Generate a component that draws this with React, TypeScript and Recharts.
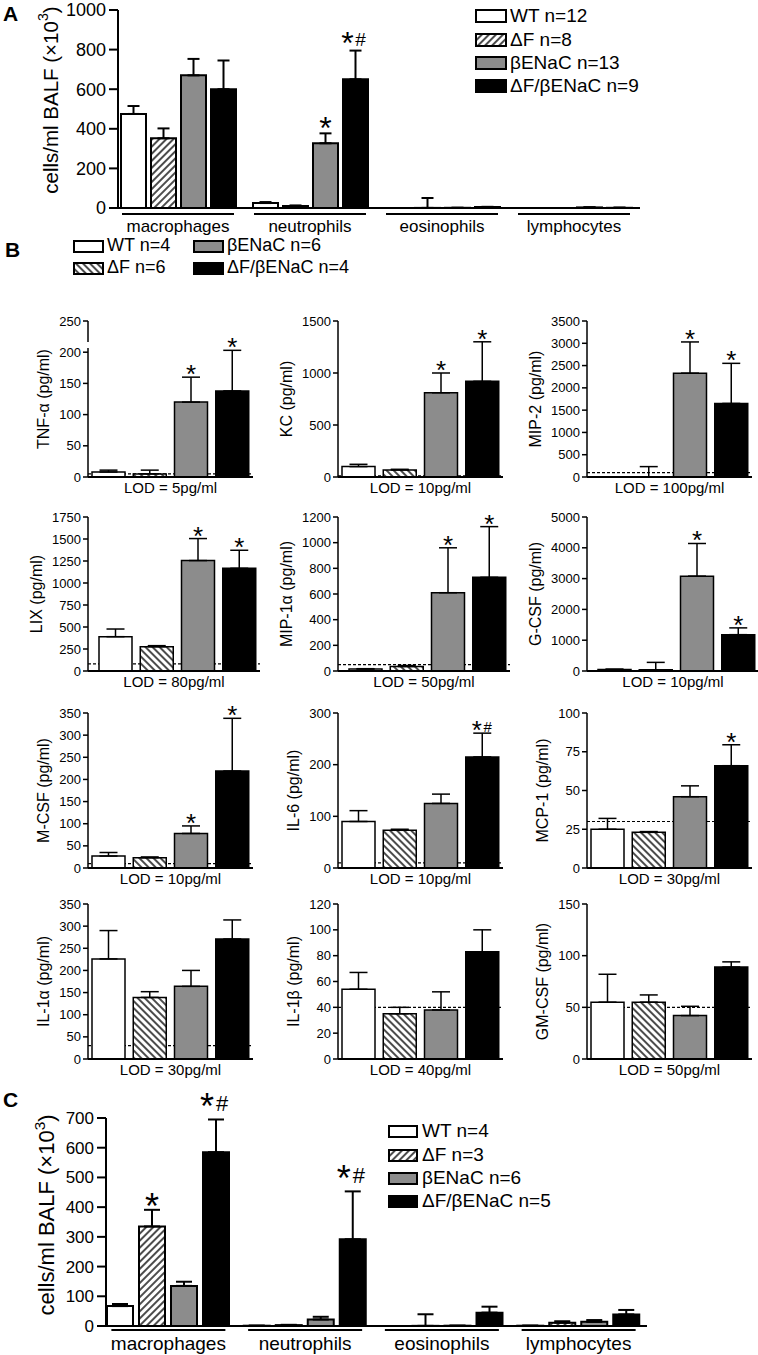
import React from 'react';
import { BarChart, Bar, XAxis, YAxis, Cell, ErrorBar, LabelList, ReferenceLine } from 'recharts';

const FONT = 'Arial, "Liberation Sans", Helvetica, sans-serif';
const GRAY = '#8c8c8c';

// ---------------- Panel A ----------------
const cellTypes = ['macrophages', 'neutrophils', 'eosinophils', 'lymphocytes'];
const legendLabelsA = ['WT n=12', 'ΔF n=8', 'βENaC n=13', 'ΔF/βENaC n=9'];
const ticksA = [0, 200, 400, 600, 800, 1000];
const wtA = [475, 25, 0, 0];
const wtErrA = [40, 5, 0, 0];
const dfA = [352, 10, 0.5, 0];
const dfErrA = [50, 3, 50, 0];
const benA = [670, 327, 1, 3];
const benErrA = [83, 50, 0, 1];
const dbA = [600, 650, 5, 1];
const dbErrA = [145, 145, 1, 1];
const benSigA = ['', '*', '', ''];
const dbSigA = ['', '*#', '', ''];

// ---------------- Panel C ----------------
const legendLabelsC = ['WT n=4', 'ΔF n=3', 'βENaC n=6', 'ΔF/βENaC n=5'];
const ticksC = [0, 100, 200, 300, 400, 500, 600, 700];
const wtC = [67, 1, 0, 1];
const wtErrC = [7, 0, 0, 0];
const dfC = [335, 3, 0.5, 11];
const dfErrC = [56, 1, 39, 5];
const benC = [135, 22, 1, 14];
const benErrC = [14, 9, 0, 6];
const dbC = [585, 292, 45, 39];
const dbErrC = [110, 161, 20, 15];
const dfSigC = ['*', '', '', ''];
const dbSigC = ['*#', '*#', '', ''];
const noSig = ['', '', '', ''];

// ---------------- Panel B ----------------
const groupsB = ['WT', 'ΔF', 'βENaC', 'ΔF/βENaC'];
const legendLabelsB = ['WT n=4', 'ΔF n=6', 'βENaC n=6', 'ΔF/βENaC n=4'];

const tnfValues = [8, 5, 120, 138];
const tnfErrors = [3, 6, 40, 65];
const tnfSig = ['', '', '*', '*'];
const tnfTicks = [0, 50, 100, 150, 200, 250];

const kcValues = [100, 68, 810, 920];
const kcErrors = [22, 6, 190, 380];
const kcSig = ['', '', '*', '*'];
const kcTicks = [0, 500, 1000, 1500];

const mip2Values = [0, 3, 2330, 1650];
const mip2Errors = [0, 230, 700, 900];
const mip2Sig = ['', '', '*', '*'];
const mip2Ticks = [0, 500, 1000, 1500, 2000, 2500, 3000, 3500];

const lixValues = [390, 276, 1255, 1167];
const lixErrors = [87, 12, 250, 205];
const lixSig = ['', '', '*', '*'];
const lixTicks = [0, 250, 500, 750, 1000, 1250, 1500, 1750];

const mip1aValues = [15, 35, 610, 730];
const mip1aErrors = [3, 8, 350, 395];
const mip1aSig = ['', '', '*', '*'];
const mip1aTicks = [0, 200, 400, 600, 800, 1000, 1200];

const gcsfValues = [50, 40, 3080, 1180];
const gcsfErrors = [10, 240, 1060, 220];
const gcsfSig = ['', '', '*', '*'];
const gcsfTicks = [0, 1000, 2000, 3000, 4000, 5000];

const mcsfValues = [27, 23, 78, 219];
const mcsfErrors = [8, 2, 17, 119];
const mcsfSig = ['', '', '*', '*'];
const mcsfTicks = [0, 50, 100, 150, 200, 250, 300, 350];

const il6Values = [90, 73, 125, 215];
const il6Errors = [21, 2, 18, 46];
const il6Sig = ['', '', '', '*#'];
const il6Ticks = [0, 100, 200, 300];

const mcp1Values = [25, 23, 46, 66];
const mcp1Errors = [7, 0.5, 7, 13.5];
const mcp1Sig = ['', '', '', '*'];
const mcp1Ticks = [0, 25, 50, 75, 100];

const il1aValues = [226, 139, 164, 271];
const il1aErrors = [64, 13, 36, 43];
const il1aTicks = [0, 50, 100, 150, 200, 250, 300, 350];

const il1bValues = [54, 35, 38, 83];
const il1bErrors = [13, 5, 14, 17];
const il1bTicks = [0, 20, 40, 60, 80, 100, 120];

const gmcsfValues = [55, 55, 42, 89];
const gmcsfErrors = [27, 7, 9, 5];
const gmcsfTicks = [0, 50, 100, 150];

const cytokines = [
  { label: 'TNF-α (pg/ml)', lod: 5, values: tnfValues, errors: tnfErrors, sig: tnfSig, ticks: tnfTicks },
  { label: 'KC (pg/ml)', lod: 10, values: kcValues, errors: kcErrors, sig: kcSig, ticks: kcTicks },
  { label: 'MIP-2 (pg/ml)', lod: 100, values: mip2Values, errors: mip2Errors, sig: mip2Sig, ticks: mip2Ticks },
  { label: 'LIX (pg/ml)', lod: 80, values: lixValues, errors: lixErrors, sig: lixSig, ticks: lixTicks },
  { label: 'MIP-1α (pg/ml)', lod: 50, values: mip1aValues, errors: mip1aErrors, sig: mip1aSig, ticks: mip1aTicks },
  { label: 'G-CSF (pg/ml)', lod: 10, values: gcsfValues, errors: gcsfErrors, sig: gcsfSig, ticks: gcsfTicks },
  { label: 'M-CSF (pg/ml)', lod: 10, values: mcsfValues, errors: mcsfErrors, sig: mcsfSig, ticks: mcsfTicks },
  { label: 'IL-6 (pg/ml)', lod: 10, values: il6Values, errors: il6Errors, sig: il6Sig, ticks: il6Ticks },
  { label: 'MCP-1 (pg/ml)', lod: 30, values: mcp1Values, errors: mcp1Errors, sig: mcp1Sig, ticks: mcp1Ticks },
  { label: 'IL-1α (pg/ml)', lod: 30, values: il1aValues, errors: il1aErrors, sig: noSig, ticks: il1aTicks },
  { label: 'IL-1β (pg/ml)', lod: 40, values: il1bValues, errors: il1bErrors, sig: noSig, ticks: il1bTicks },
  { label: 'GM-CSF (pg/ml)', lod: 50, values: gmcsfValues, errors: gmcsfErrors, sig: noSig, ticks: gmcsfTicks },
];

// ---------------- layout ----------------
const colAxisX = [88, 338, 587];
const rowTop = [321, 517, 713, 904];
const rowBottom = [477, 671, 868, 1059];
const rowPadLeft = [0, 7, 0, 0];
const SMALL_YW = 88;
const SMALL_PW = 165;

// ---------------- helpers ----------------
const hatchDef = (id: string, dir: 'fwd' | 'back') => (
  <pattern id={id} key={id} patternUnits="userSpaceOnUse" width={5} height={5} patternTransform={`rotate(${dir === 'fwd' ? 45 : -45})`}>
    <rect x={0} y={0} width={5} height={5} fill="#fff" />
    <line x1={1} y1={-1} x2={1} y2={6} stroke="#000" strokeWidth={1.4} />
  </pattern>
);

type StarCfg = { size: number; singleDy: number; pairStarDy: number; hashSize: number; hashDy: number; starDx: number; hashDx: number };

// label value is "sig|value|error" so the error-bar top can be found from the bar's own pixel scale
const makeSig = (st: StarCfg) => (props: any) => {
  const raw = props.value;
  if (!raw) return null;
  const [sig, vStr, eStr] = String(raw).split('|');
  if (!sig) return null;
  const v = Number(vStr), e = Number(eStr);
  const vb = props.viewBox && props.viewBox.width !== undefined ? props.viewBox : props;
  const x = Number(vb.x), y = Number(vb.y), w = Number(vb.width), h = Number(vb.height);
  if (!(v > 0) || !isFinite(h)) return null;
  const capY = y - e * (Math.abs(h) / v);
  const cx = x + w / 2;
  if (sig === '*') {
    return <text x={cx} y={capY + st.singleDy} textAnchor="middle" fontSize={st.size} fill="#000">*</text>;
  }
  return (
    <g>
      <text x={cx + st.starDx} y={capY + st.pairStarDy} textAnchor="middle" fontSize={st.size} fill="#000">*</text>
      <text x={cx + st.hashDx} y={capY + st.hashDy} textAnchor="middle" fontSize={st.hashSize} fill="#000">#</text>
    </g>
  );
};

const rotLabel = (content: React.ReactNode, cx: number, cy: number, fs: number) => () => (
  <text transform={`translate(${cx},${cy}) rotate(-90)`} textAnchor="middle" dominantBaseline="central" fontSize={fs} fill="#000">{content}</text>
);

// ---------------- grouped chart (A, C) ----------------
type Series = { key: string; vals: number[]; errs: number[]; sig: string[]; fill: string };

const GroupedChart = (p: {
  top: number; height: number; plotTop: number; plotBottom: number; axisX: number; plotRight: number; padLeft: number;
  series: Series[]; ticks: number[]; barSize: number; barGap: number; errW: number; tickFs: number; catFs: number;
  ulDy: number; txtDy: number; ulHalf: number; star: StarCfg; hatchId: string; yLabel: React.ReactNode; yLabCx: number; yLabCy: number; yLabFs: number;
}) => {
  const rows = cellTypes.map((c, i) => {
    const r: any = { cat: c };
    p.series.forEach((s) => {
      r[s.key] = s.vals[i];
      r[s.key + 'E'] = [0, s.errs[i]];
      r[s.key + 'Err'] = s.errs[i];
      r[s.key + 'S'] = s.sig[i];
    });
    return r;
  });
  const mTop = p.plotTop - p.top;
  const xH = p.top + p.height - p.plotBottom;
  const width = p.plotRight + 16;
  const catTick = (tp: any) => {
    const { x, y, payload } = tp;
    return (
      <g>
        <line x1={x - p.ulHalf} x2={x + p.ulHalf} y1={y + p.ulDy} y2={y + p.ulDy} stroke="#000" strokeWidth={2} />
        <text x={x} y={y + p.txtDy} textAnchor="middle" fontSize={p.catFs} fill="#000">{payload.value}</text>
      </g>
    );
  };
  return (
    <div style={{ position: 'absolute', left: 0, top: p.top, width, height: p.height }}>
      <BarChart width={width} height={p.height} data={rows} margin={{ top: mTop, right: width - p.plotRight, bottom: 0, left: 0 }} barGap={p.barGap}>
        <defs>{hatchDef(p.hatchId, 'fwd')}</defs>
        <XAxis dataKey="cat" height={xH} tickLine={false} tickSize={0} tickMargin={0} interval={0}
          axisLine={{ stroke: '#000', strokeWidth: 2 }} tick={catTick} padding={{ left: p.padLeft, right: 0 }} />
        <YAxis width={p.axisX} domain={[0, p.ticks[p.ticks.length - 1]]} ticks={p.ticks} interval={0} allowDataOverflow
          tickSize={9} tickMargin={3} axisLine={{ stroke: '#000', strokeWidth: 2 }} tickLine={{ stroke: '#000', strokeWidth: 2 }}
          tick={{ fontSize: p.tickFs, fill: '#000' }}
          label={{ value: 'y', content: rotLabel(p.yLabel, p.yLabCx, p.yLabCy, p.yLabFs) }} />
        {p.series.map((s) => (
          <Bar key={s.key} dataKey={s.key} fill={s.fill} stroke="#000" strokeWidth={2} barSize={p.barSize} isAnimationActive={false}>
            <ErrorBar dataKey={s.key + 'E'} width={p.errW} stroke="#000" strokeWidth={2} direction="y" />
            <LabelList dataKey={(r: any) => (r[s.key + 'S'] ? `${r[s.key + 'S']}|${r[s.key]}|${r[s.key + 'Err']}` : '')} content={makeSig(p.star)} />
          </Bar>
        ))}
      </BarChart>
    </div>
  );
};

// ---------------- small cytokine chart ----------------
const fillsB = ['#fff', 'url(#hatchB)', GRAY, '#000'];
const starB: StarCfg = { size: 26, singleDy: 6, pairStarDy: 6, hashSize: 15, hashDy: -1, starDx: -5.5, hashDx: 5.5 };

const SmallChart = ({ c, idx }: { c: typeof cytokines[number]; idx: number }) => {
  const col = idx % 3;
  const row = Math.floor(idx / 3);
  const axisX = colAxisX[col];
  const pTop = rowTop[row];
  const pBot = rowBottom[row];
  const padL = rowPadLeft[row];
  const plotW = SMALL_PW + padL;
  const plotH = pBot - pTop;
  const mTop = 14;
  const xH = 24;
  const height = mTop + plotH + xH;
  const width = SMALL_YW + plotW + 5;
  const rows = groupsB.map((g, i) => ({ g, v: c.values[i], e: [0, c.errors[i]], err: c.errors[i], s: c.sig[i] }));
  const maxT = c.ticks[c.ticks.length - 1];
  const dist = String(maxT).length >= 4 ? 52 : 45;
  const patId = `hatchB${idx}`;
  const lodLabel = () => (
    <text x={SMALL_YW + plotW / 2} y={mTop + plotH + 16} textAnchor="middle" fontSize={15} fill="#000">{`LOD = ${c.lod}pg/ml`}</text>
  );
  return (
    <div style={{ position: 'absolute', left: axisX - SMALL_YW, top: pTop - mTop, width, height }}>
      <BarChart width={width} height={height} data={rows} margin={{ top: mTop, right: 5, bottom: 0, left: 0 }}>
        <defs>{hatchDef(patId, 'back')}</defs>
        <XAxis dataKey="g" height={xH} tick={false} tickLine={false} axisLine={{ stroke: '#000', strokeWidth: 2 }}
          padding={{ left: padL, right: 0 }}
          label={{ value: 'lod', content: lodLabel }} />
        <YAxis width={SMALL_YW} domain={[0, maxT]} ticks={c.ticks} interval={0} allowDataOverflow tickSize={5} tickMargin={2}
          axisLine={{ stroke: '#000', strokeWidth: 1.5 }} tickLine={{ stroke: '#000', strokeWidth: 1.5 }}
          tick={{ fontSize: 13, fill: '#000' }}
          label={{ value: c.label, content: rotLabel(c.label, SMALL_YW - dist, mTop + plotH / 2, 16) }} />
        <ReferenceLine y={c.lod} stroke="#000" strokeDasharray="3 2" strokeWidth={1.2} zIndex={-1} />
        <Bar dataKey="v" barSize={33} stroke="#000" strokeWidth={1.5} isAnimationActive={false}>
          {rows.map((r, i) => (
            <Cell key={i} fill={i === 1 ? `url(#${patId})` : fillsB[i]} />
          ))}
          <ErrorBar dataKey="e" width={9} stroke="#000" strokeWidth={1.5} direction="y" />
          <LabelList dataKey={(r: any) => (r.s ? `${r.s}|${r.v}|${r.err}` : '')} content={makeSig(starB)} />
        </Bar>
      </BarChart>
    </div>
  );
};

// ---------------- legend ----------------
const Swatch = ({ kind, w, h, id }: { kind: string; w: number; h: number; id: string }) => {
  const fill = kind === 'white' ? '#fff' : kind === 'gray' ? GRAY : kind === 'black' ? '#000' : `url(#${id})`;
  return (
    <svg width={w} height={h} style={{ display: 'block' }}>
      <defs>{kind === 'fwd' || kind === 'back' ? hatchDef(id, kind as any) : null}</defs>
      <rect x={1} y={1} width={w - 2} height={h - 2} fill={fill} stroke="#000" strokeWidth={2} />
    </svg>
  );
};

const LegendItem = ({ left, cy, w, h, kind, text, fs, gap, id }: any) => (
  <>
    <div style={{ position: 'absolute', left, top: cy - h / 2 }}>
      <Swatch kind={kind} w={w} h={h} id={id} />
    </div>
    <div style={{ position: 'absolute', left: left + w + gap, top: cy - 0.6 * fs, fontSize: fs, lineHeight: `${1.2 * fs}px`, whiteSpace: 'nowrap', color: '#000' }}>{text}</div>
  </>
);

const yLabBALF = (
  <>
    cells/ml BALF (×10<tspan dy={-7} fontSize="70%">3</tspan><tspan dy={7}>)</tspan>
  </>
);

const PanelLetter = ({ ch, left, top }: { ch: string; left: number; top: number }) => (
  <div style={{ position: 'absolute', left, top, fontSize: 21, fontWeight: 'bold', lineHeight: '24px' }}>{ch}</div>
);

export default function App() {
  const kindsA = ['white', 'fwd', 'gray', 'black'];
  const seriesA: Series[] = [
    { key: 'wt', vals: wtA, errs: wtErrA, sig: noSig, fill: '#fff' },
    { key: 'df', vals: dfA, errs: dfErrA, sig: noSig, fill: 'url(#hatchA)' },
    { key: 'ben', vals: benA, errs: benErrA, sig: benSigA, fill: GRAY },
    { key: 'db', vals: dbA, errs: dbErrA, sig: dbSigA, fill: '#000' },
  ];
  const seriesC: Series[] = [
    { key: 'wt', vals: wtC, errs: wtErrC, sig: noSig, fill: '#fff' },
    { key: 'df', vals: dfC, errs: dfErrC, sig: dfSigC, fill: 'url(#hatchC)' },
    { key: 'ben', vals: benC, errs: benErrC, sig: noSig, fill: GRAY },
    { key: 'db', vals: dbC, errs: dbErrC, sig: dbSigC, fill: '#000' },
  ];
  return (
    <div style={{ position: 'absolute', left: 0, top: 0, width: 758, height: 1355, overflow: 'hidden', background: '#fff', fontFamily: FONT, color: '#000' }}>
      <PanelLetter ch="A" left={3} top={2} />
      <GroupedChart top={0} height={240} plotTop={10} plotBottom={208} axisX={118} plotRight={640} padLeft={-6}
        series={seriesA} ticks={ticksA} barSize={25} barGap={5} errW={6} tickFs={18} catFs={17}
        ulDy={6} txtDy={24} ulHalf={56}
        star={{ size: 32, singleDy: 6, pairStarDy: 3, hashSize: 19, hashDy: -5, starDx: -8, hashDx: 5 }}
        hatchId="hatchA" yLabel={yLabBALF} yLabCx={50} yLabCy={100} yLabFs={20.5} />
      {legendLabelsA.map((t, i) => (
        <LegendItem key={t} left={475} cy={[16, 40, 63, 86][i]} w={32} h={14} kind={kindsA[i]} text={t} fs={19} gap={3} id={`legA${i}`} />
      ))}

      <PanelLetter ch="B" left={5} top={238} />
      {legendLabelsB.map((t, i) => (
        <LegendItem key={t} left={i < 2 ? 73 : 193} cy={i % 2 === 0 ? 246 : 268} w={31} h={13}
          kind={['white', 'back', 'gray', 'black'][i]} text={t} fs={18} gap={3} id={`legB${i}`} />
      ))}
      {cytokines.map((c, i) => <SmallChart key={c.label} c={c} idx={i} />)}
      <div style={{ position: 'absolute', left: 84, top: 342, width: 8, height: 6, background: '#fff' }} />

      <PanelLetter ch="C" left={3} top={1088} />
      <GroupedChart top={1082} height={273} plotTop={1118} plotBottom={1326} axisX={106} plotRight={647} padLeft={-6}
        series={seriesC} ticks={ticksC} barSize={26} barGap={6} errW={8} tickFs={17} catFs={19}
        ulDy={4} txtDy={24} ulHalf={57}
        star={{ size: 36, singleDy: 9, pairStarDy: 0, hashSize: 22, hashDy: -8, starDx: -9, hashDx: 6 }}
        hatchId="hatchC" yLabel={yLabBALF} yLabCx={46} yLabCy={1215 - 1082} yLabFs={22} />
      {legendLabelsC.map((t, i) => (
        <LegendItem key={t} left={388} cy={[1131, 1155, 1178, 1201][i]} w={30} h={13} kind={kindsA[i]} text={t} fs={19} gap={4} id={`legC${i}`} />
      ))}
    </div>
  );
}
